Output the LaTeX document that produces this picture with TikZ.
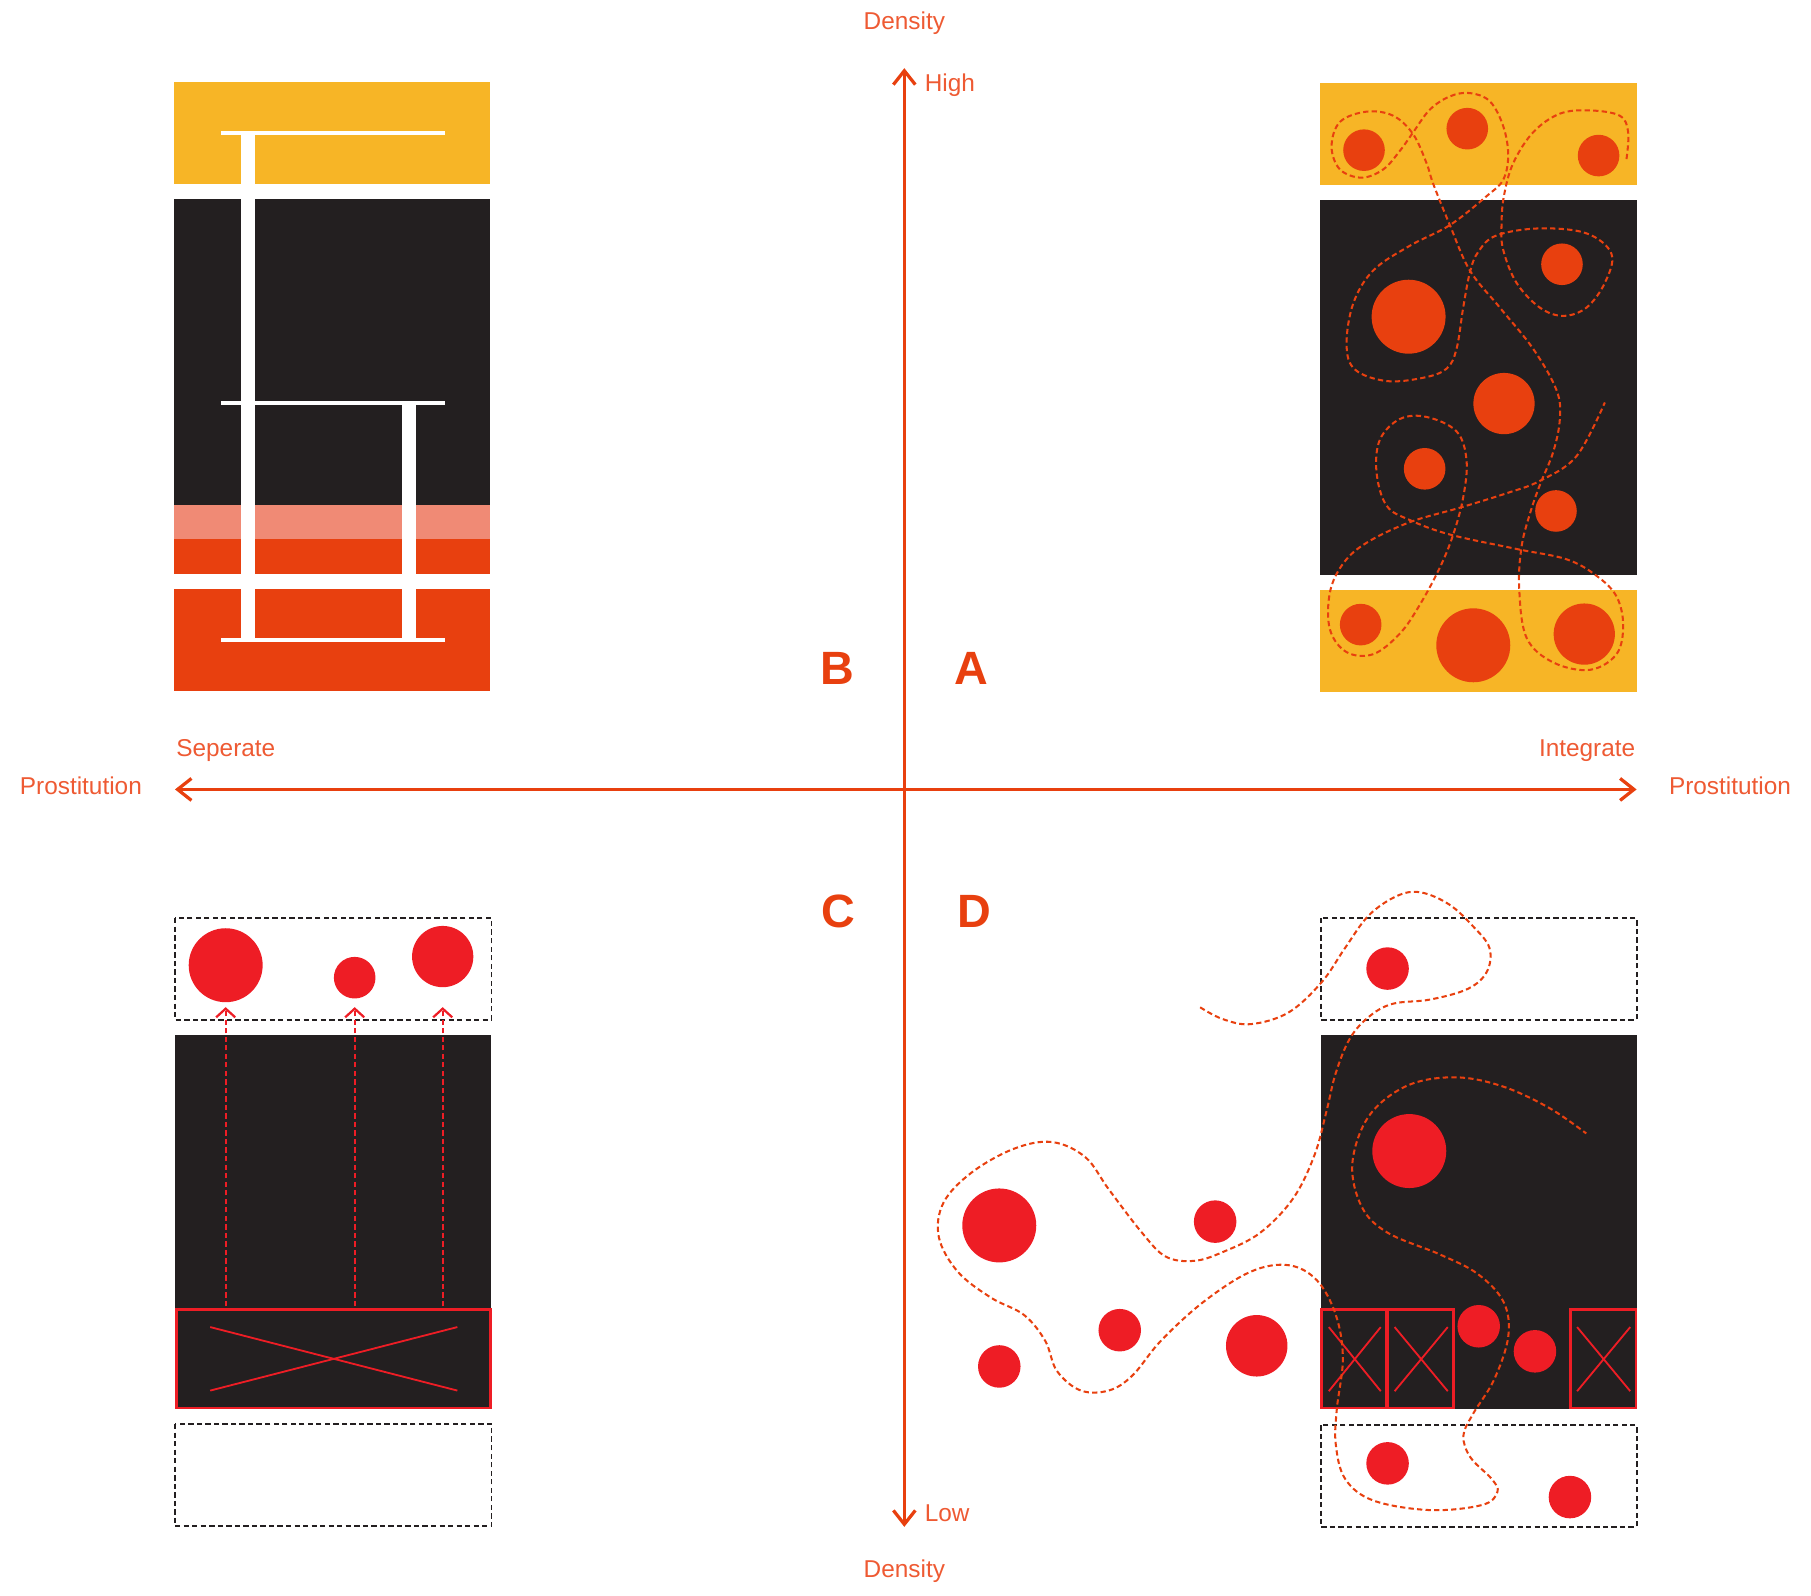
\documentclass[tikz,border=0pt]{standalone}
\usepackage{fontspec}
\setmainfont{Liberation Sans}
\usetikzlibrary{arrows.meta,positioning}
\definecolor{flame}{HTML}{E8400F}
\definecolor{amber}{HTML}{F7B526}
\definecolor{salmon}{HTML}{F08A75}
\definecolor{ink}{HTML}{231F20}
\definecolor{scarlet}{HTML}{EE1D25}
\definecolor{labeltext}{HTML}{EE5A33}

\begin{document}
\begin{tikzpicture}[x=0.01cm,y=-0.01cm,
  axis/.style={draw=flame,line width=0.8pt,
    {Straight Barb[length=1.2mm,width=1.9mm]}-{Straight Barb[length=1.2mm,width=1.9mm]}},
  axislabel/.style={font=\fontsize{6}{7}\selectfont,text=labeltext,inner sep=0pt},
  quadlabel/.style={font=\fontsize{11.5}{12}\selectfont\bfseries,text=flame,inner sep=0pt},
  trail/.style={draw=flame,line width=0.5pt,dash pattern=on 1.3pt off 0.8pt,smooth,tension=0.6},
  ghostbox/.style={draw=ink,line width=0.45pt,dash pattern=on 1.3pt off 0.8pt},
  lift/.style={draw=scarlet,line width=0.55pt,dash pattern=on 1.3pt off 0.8pt,
    -{Straight Barb[length=0.75mm,width=1.65mm]}},
  banned/.style={draw=scarlet,line width=0.7pt},
  cross/.style={draw=scarlet,line width=0.45pt}
]
  \useasboundingbox (0,0) rectangle (1568,1381);

  % axes
  \coordinate (north) at (783,59);
  \coordinate (south) at (783,1322);
  \coordinate (west) at (151.5,683.5);
  \coordinate (east) at (1417,683.5);
  \draw[axis] (south) -- (north);
  \draw[axis] (west) -- (east);

  \node[axislabel,anchor=base] (densityhigh) at (783,25.4) {Density};
  \node[axislabel,anchor=base west] (high) at (800,79.4) {High};
  \node[axislabel,anchor=base west] (low) at (800,1317) {Low};
  \node[axislabel,anchor=base] (densitylow) at (783,1366) {Density};
  \node[axislabel,anchor=base west] (seperate) at (152,655) {Seperate};
  \node[axislabel,anchor=base east] (integrate) at (1416.5,655) {Integrate};
  \node[axislabel,anchor=base east] (prostleft) at (123.5,688.3) {Prostitution};
  \node[axislabel,anchor=base west] (prostright) at (1444.4,688.3) {Prostitution};

  \node[quadlabel,anchor=base] (qb) at (725,593) {B};
  \node[quadlabel,anchor=base] (qa) at (841,593) {A};
  \node[quadlabel,anchor=base] (qc) at (726,803) {C};
  \node[quadlabel,anchor=base] (qd) at (843.5,803) {D};

  % B: separated, stacked
  \fill[amber] (151,71) rectangle (424,159);
  \fill[ink] (151,172) rectangle (424,437);
  \fill[salmon] (151,437) rectangle (424,467);
  \fill[flame] (151,467) rectangle (424,497);
  \fill[flame] (151,510) rectangle (424,598);
  \fill[white] (209,114) rectangle (221,555);
  \fill[white] (348,349) rectangle (360,555);
  \fill[white] (191,113.6) rectangle (385,117.2);
  \fill[white] (191,347.2) rectangle (385,350.8);
  \fill[white] (191,552) rectangle (385,555.5);

  % A: integrated, high density
  \fill[amber] (1143,72) rectangle (1417,160);
  \fill[ink] (1143,173) rectangle (1417,498);
  \fill[amber] (1143,511) rectangle (1417,599);
  \foreach \cx/\cy/\r in {1181/130/1.8, 1270.4/111.4/1.8, 1384.1/134.7/1.8,
      1352.4/228.8/1.8, 1219.6/274.2/3.2, 1302.2/349.4/2.65, 1233.5/405.9/1.8,
      1347.2/442.4/1.8, 1178.1/540.8/1.8, 1275.6/558.7/3.2, 1371.7/549/2.65}
    \fill[flame] (\cx,\cy) circle[radius=\r mm];
  \begin{scope}[shift={(1125.5,52)},x=0.002886cm,y=-0.003578cm]
    \draw[trail] plot coordinates {(980,240) (985,175) (960,135) (870,122) (780,130)
      (700,175) (640,250) (612,330) (605,400) (610,460) (650,540) (720,600) (790,620)
      (860,600) (915,540) (935,470) (860,420) (720,408) (590,425) (535,465) (510,515)
      (490,600) (470,700) (440,748) (370,770) (260,778) (165,750) (140,690) (160,590)
      (220,510) (330,450) (450,400) (560,330) (610,290) (625,230) (610,160) (570,100)
      (510,80) (450,88) (390,120) (340,175) (300,220) (250,265) (185,285) (120,265)
      (95,210) (120,150) (200,125) (280,135) (340,180) (380,250) (400,300) (450,400)
      (510,510) (600,600) (700,700) (770,800) (780,870) (760,950) (720,1030) (690,1100)
      (665,1180) (658,1280) (680,1400) (760,1460) (870,1478) (950,1440) (970,1370)
      (950,1300) (890,1250) (800,1210) (650,1185) (450,1150) (330,1115) (260,1080)
      (230,1000) (240,920) (300,870) (380,865) (470,900) (500,970) (490,1060)
      (460,1150) (420,1230) (360,1320) (300,1390) (220,1440) (140,1435) (90,1380)
      (90,1290) (130,1220) (200,1170) (330,1120) (480,1085) (620,1050) (720,1020)
      (830,960) (915,830)};
  \end{scope}

  % C: separated, low density
  \draw[ghostbox] (151.5,795) rectangle (425.5,883);
  \foreach \cx/\cy/\r in {195.4/835.7/3.2, 307.1/846.5/1.8, 383.3/828.2/2.65}
    \fill[scarlet] (\cx,\cy) circle[radius=\r mm];
  \fill[ink] (151.5,896) rectangle (425.5,1220);
  \draw[banned] (152.5,1133.5) rectangle (424.5,1219);
  \draw[cross] (182,1149) -- (396,1204);
  \draw[cross] (182,1204) -- (396,1149);
  \foreach \ax [count=\i] in {195.4,307.1,383.3} {
    \coordinate (from\i) at (\ax,1131);
    \coordinate (to\i) at (\ax,872);
    \draw[lift] (from\i) -- (to\i);
  }
  \draw[ghostbox] (151.5,1233) rectangle (425.5,1321.5);

  % D: integrated, low density
  \draw[ghostbox] (1143.5,795) rectangle (1417,883);
  \fill[ink] (1143.5,896) rectangle (1417,1220);
  \draw[ghostbox] (1143.5,1234) rectangle (1417,1322);
  \foreach \xa/\xb in {1144.5/1200.5, 1201.5/1258.5, 1359.5/1416.5} {
    \draw[banned] (\xa,1133.5) rectangle (\xb,1219);
    \draw[cross] (\xa+6,1149) -- (\xb-5,1204.5);
    \draw[cross] (\xa+6,1204.5) -- (\xb-5,1149);
  }
  \foreach \cx/\cy/\r in {1201.4/838.6/1.84, 1220.2/996.6/3.2, 865.2/1061/3.2,
      1052.1/1057.7/1.84, 969.5/1151.7/1.84, 865.2/1183.1/1.84, 1088.1/1165.2/2.66,
      1280.3/1148.3/1.84, 1329/1170/1.84, 1201.4/1267/1.84, 1359.3/1296.2/1.84}
    \fill[scarlet] (\cx,\cy) circle[radius=\r mm];
  \begin{scope}[shift={(796.5,753.2)},x=0.00409cm,y=-0.003745cm]
    \draw[trail] plot coordinates {(593,318) (640,345) (700,357) (780,330) (850,260)
      (900,180) (950,105) (1010,60) (1060,52) (1120,80) (1170,130) (1205,180)
      (1200,235) (1160,275) (1080,300) (1000,310) (950,340) (910,390) (880,470)
      (860,560) (835,660) (790,760) (720,840) (640,885) (580,905) (520,895)
      (470,840) (400,740) (350,665) (280,630) (200,645) (110,700) (50,770) (40,850)
      (80,930) (150,990) (220,1030) (265,1090) (290,1160) (340,1205) (400,1205)
      (450,1170) (510,1090) (600,1000) (700,930) (780,915) (840,950) (880,1030)
      (895,1130) (882,1250) (880,1330) (900,1410) (960,1460) (1080,1482) (1190,1470)
      (1222,1440) (1210,1410) (1165,1360) (1150,1310) (1170,1260) (1215,1180)
      (1245,1080) (1235,1000) (1180,935) (1100,890) (990,840) (935,780) (915,680)
      (950,570) (1030,500) (1130,480) (1230,500) (1330,550) (1410,610)};
  \end{scope}
\end{tikzpicture}
\end{document}
